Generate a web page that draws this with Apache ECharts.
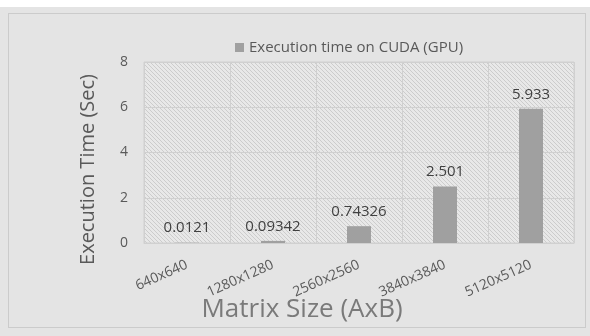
<!DOCTYPE html>
<html>
<head>
<meta charset="utf-8">
<script src="https://cdn.jsdelivr.net/npm/echarts@6/dist/echarts.min.js"></script>
<style>
  html, body { margin: 0; padding: 0; background: #ffffff; }
  #panel { position: absolute; left: 0; top: 7px; width: 590px; height: 329px; background: #e4e4e4; }
  #frame { position: absolute; left: 8px; top: 13px; width: 578px; height: 315px; border: 1px solid #cbcbcb; box-sizing: border-box; }
  #chart { position: absolute; left: 0; top: 0; width: 590px; height: 336px; }
</style>
</head>
<body>
<div id="panel"></div>
<div id="frame"></div>
<div id="chart"></div>
<script>
// Matrix sizes and GPU execution times (seconds)
const categories = ['640x640', '1280x1280', '2560x2560', '3840x3840', '5120x5120'];
const gpuTimes = [0.0121, 0.09342, 0.74326, 2.501, 5.933];
const seriesName = 'Execution time on CUDA (GPU)';
const yTicks = [0, 2, 4, 6, 8];

// Diagonal hatch tile for the plot area background
function hatchTile() {
  const c = document.createElement('canvas');
  c.width = 4; c.height = 4;
  const g = c.getContext('2d');
  g.fillStyle = '#e8e8e8';
  g.fillRect(0, 0, 4, 4);
  g.fillStyle = '#cccccc';
  for (let i = 0; i < 4; i++) {
    g.fillRect(i, i, 1, 1);
  }
  return c;
}

const font = '"Open Sans", "Noto Sans", sans-serif';
const chart = echarts.init(document.getElementById('chart'), null, { renderer: 'canvas' });

chart.setOption({
  animation: false,
  textStyle: { fontFamily: font },
  legend: {
    data: [seriesName],
    top: 35,
    left: 230,
    itemWidth: 9,
    itemHeight: 9,
    itemGap: 4,
    icon: 'rect',
    textStyle: { fontFamily: font, fontSize: 15, color: '#595959' }
  },
  grid: {
    left: 144, right: 16, top: 62, bottom: 93,
    show: true,
    backgroundColor: { image: hatchTile(), repeat: 'repeat' },
    borderColor: '#d0d0d0',
    borderWidth: 1
  },
  xAxis: {
    type: 'category',
    data: categories,
    boundaryGap: true,
    axisLine: { show: true, lineStyle: { color: '#d0d0d0' } },
    axisTick: { show: false },
    splitLine: { show: true, lineStyle: { color: '#d0d0d0', width: 1 } },
    axisLabel: {
      rotate: 24, margin: 21, fontSize: 14, color: '#595959', fontFamily: font, interval: 0
    },
    name: 'Matrix Size (AxB)',
    nameLocation: 'middle',
    nameGap: 54,
    nameMoveOverlap: false,
    nameTextStyle: { fontSize: 26, color: '#7a7a7a', fontFamily: font, padding: [0, 114, 0, 0] }
  },
  yAxis: {
    type: 'value',
    min: yTicks[0],
    max: yTicks[yTicks.length - 1],
    interval: 2,
    axisLine: { show: false },
    axisTick: { show: false },
    splitLine: { show: true, lineStyle: { color: '#d0d0d0', width: 1 } },
    axisLabel: { margin: 16, fontSize: 14, color: '#595959', fontFamily: font },
    name: 'Execution Time (Sec)',
    nameLocation: 'middle',
    nameRotate: 90,
    nameGap: 46,
    nameMoveOverlap: false,
    nameTextStyle: { fontSize: 20, color: '#595959', fontFamily: font, padding: [0, 34, 0, 0] }
  },
  series: [{
    name: seriesName,
    type: 'bar',
    data: gpuTimes,
    barWidth: 24,
    itemStyle: { color: '#a0a0a0' },
    label: {
      show: true,
      position: 'top',
      distance: 7,
      fontSize: 15,
      color: '#404040',
      fontFamily: font,
      formatter: p => String(p.value)
    }
  }]
});
</script>
</body>
</html>
